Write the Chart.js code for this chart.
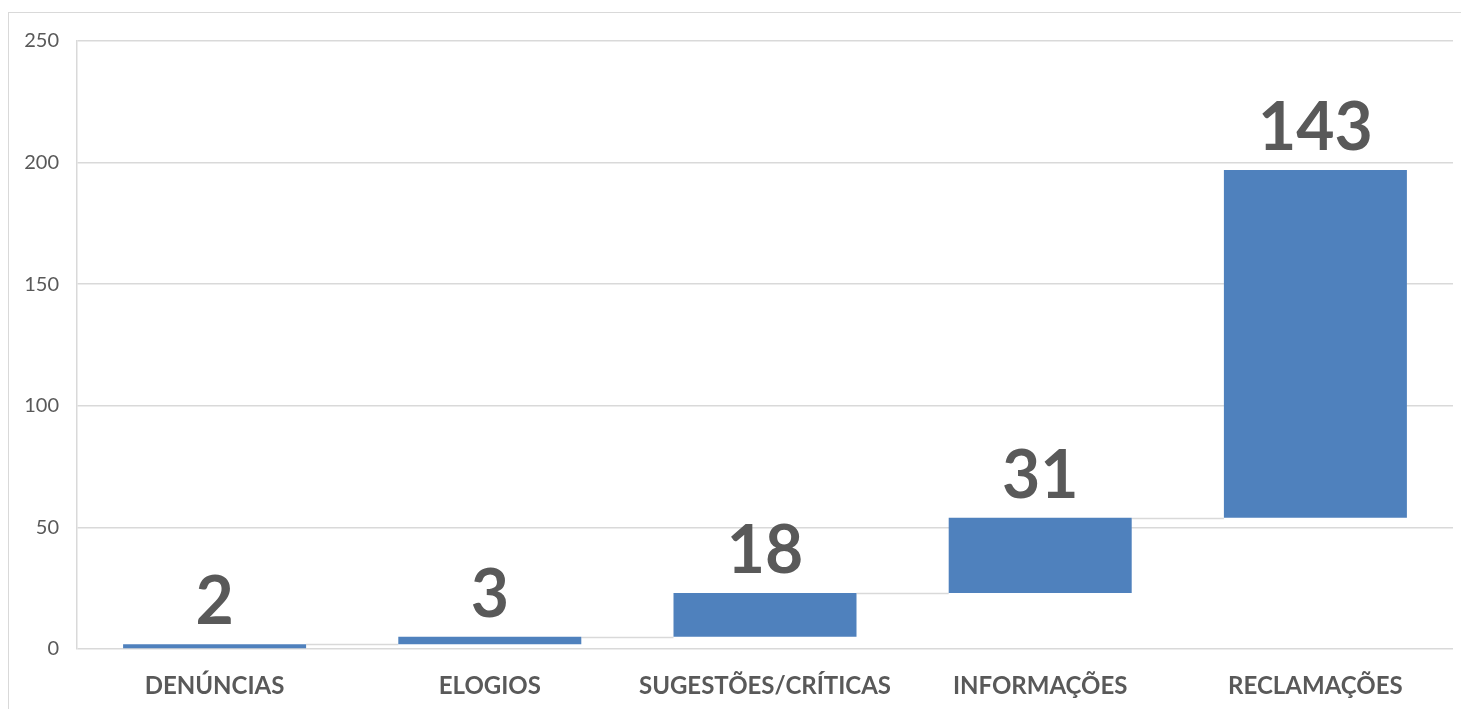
<!DOCTYPE html>
<html>
<head>
<meta charset="utf-8">
<script src="https://cdn.jsdelivr.net/npm/chart.js@4"></script>
<style>
  html, body { margin: 0; padding: 0; background: #fff; }
  #caja { position: absolute; left: 0; top: 0; width: 1461px; height: 709px; }
  #marco { position: absolute; left: 8px; top: 12px; width: 1460px; height: 710px;
           border-left: 1px solid #d9d9d9; border-top: 1px solid #d9d9d9; }
</style>
</head>
<body>
<div id="marco"></div>
<div id="caja"><canvas id="cascada" width="1461" height="709"></canvas></div>
<script>
// categorias y valores (grafico de cascada)
const categorias = ["DENÚNCIAS", "ELOGIOS", "SUGESTÕES/CRÍTICAS", "INFORMAÇÕES", "RECLAMAÇÕES"];
const valores = [2, 3, 18, 31, 143];
const ticksY = [0, 50, 100, 150, 200, 250];

// acumular inicio/fin de cada barra
let acumulado = 0;
const tramos = valores.map((v) => {
  const t = [acumulado, acumulado + v];
  acumulado += v;
  return t;
});

const gris = "#595959";
const fuente = "Lato, 'Open Sans', sans-serif";

// lineas conectoras entre barras
const conectores = {
  id: "conectores",
  beforeDatasetsDraw(chart) {
    const meta = chart.getDatasetMeta(0);
    const y = chart.scales.y;
    const ctx = chart.ctx;
    ctx.save();
    ctx.strokeStyle = "#d9d9d9";
    ctx.lineWidth = 1.5;
    for (let i = 0; i < meta.data.length - 1; i++) {
      const a = meta.data[i], b = meta.data[i + 1];
      const py = Math.round(y.getPixelForValue(tramos[i][1])) + 0.5;
      ctx.beginPath();
      ctx.moveTo(a.x + a.width / 2, py);
      ctx.lineTo(b.x - b.width / 2, py);
      ctx.stroke();
    }
    ctx.restore();
  },
};

// etiquetas grandes encima de cada barra
const etiquetas = {
  id: "etiquetas",
  afterDatasetsDraw(chart) {
    const meta = chart.getDatasetMeta(0);
    const y = chart.scales.y;
    const ctx = chart.ctx;
    ctx.save();
    ctx.fillStyle = gris;
    ctx.font = "bold 66px " + fuente;
    ctx.textAlign = "center";
    ctx.textBaseline = "alphabetic";
    meta.data.forEach((bar, i) => {
      const top = y.getPixelForValue(tramos[i][1]);
      ctx.fillText(String(valores[i]), bar.x, top - 20);
    });
    ctx.restore();
  },
};

new Chart(document.getElementById("cascada"), {
  type: "bar",
  data: {
    labels: categorias,
    datasets: [
      {
        data: tramos,
        backgroundColor: "#4f81bd",
        borderWidth: 0,
        categoryPercentage: 1,
        barPercentage: 0.665,
      },
    ],
  },
  options: {
    responsive: false,
    animation: false,
    layout: { padding: { top: 41, right: 8, bottom: 0, left: 0 } },
    plugins: { legend: { display: false }, tooltip: { enabled: false } },
    scales: {
      x: {
        grid: { display: false, drawTicks: false },
        border: { display: false },
        afterFit: (s) => {
          s.height = 60;
        },
        ticks: {
          color: gris,
          padding: 23,
          font: { family: fuente, size: 24, weight: "bold" },
          maxRotation: 0,
          autoSkip: false,
        },
      },
      y: {
        min: 0,
        max: 250,
        afterBuildTicks: (s) => {
          s.ticks = ticksY.map((v) => ({ value: v }));
        },
        afterFit: (s) => {
          s.width = 77;
        },
        grid: { color: "#d9d9d9", lineWidth: 1.5, drawTicks: false },
        border: { color: "#d9d9d9", width: 1.5 },
        ticks: {
          color: gris,
          padding: 18,
          font: { family: fuente, size: 20 },
        },
      },
    },
  },
  plugins: [conectores, etiquetas],
});
</script>
</body>
</html>
